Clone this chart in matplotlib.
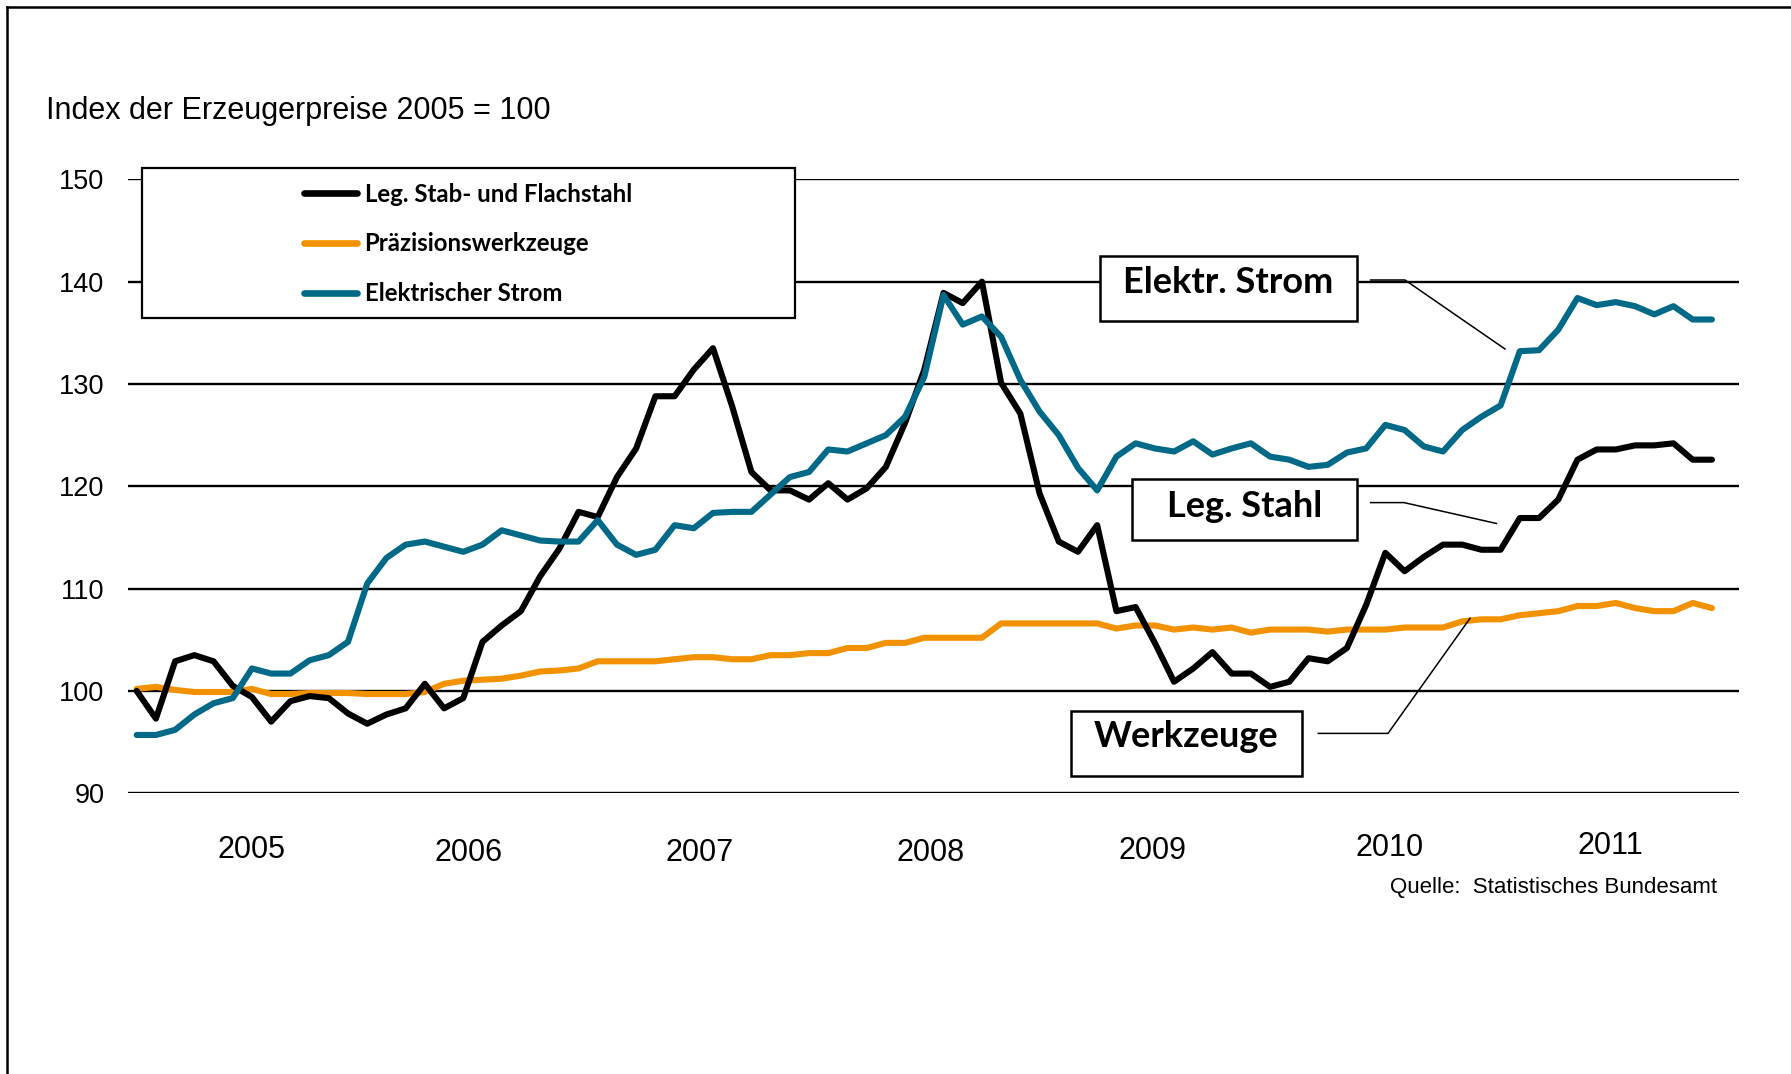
import numpy as np
import matplotlib
matplotlib.use("Agg")
import matplotlib.pyplot as plt
from matplotlib import font_manager as fm
from matplotlib.patches import Rectangle
from matplotlib.lines import Line2D

# monthly index values, Jan 2005 .. Nov 2011 (2005 = 100)
stahl = [100.0, 97.3, 102.9, 103.5, 102.9, 100.5, 99.4, 97.0, 99.0, 99.5, 99.3, 97.8,
         96.8, 97.7, 98.3, 100.7, 98.3, 99.3, 104.8, 106.4, 107.8, 111.2, 113.9, 117.5,
         117.0, 120.9, 123.7, 128.8, 128.8, 131.4, 133.5, 127.8, 121.4, 119.6, 119.6, 118.7,
         120.3, 118.7, 119.8, 121.9, 126.2, 131.4, 138.9, 137.9, 140.0, 130.1, 127.1, 119.3,
         114.6, 113.6, 116.2, 107.8, 108.2, 104.7, 100.9, 102.2, 103.8, 101.7, 101.7, 100.4,
         100.9, 103.2, 102.9, 104.2, 108.4, 113.5, 111.7, 113.1, 114.3, 114.3, 113.8, 113.8,
         116.9, 116.9, 118.7, 122.6, 123.6, 123.6, 124.0, 124.0, 124.2, 122.6, 122.6]
werkzeuge = [100.2, 100.4, 100.1, 99.9, 99.9, 99.9, 100.2, 99.7, 99.7, 99.8, 99.8, 99.8,
             99.7, 99.7, 99.7, 99.9, 100.7, 101.0, 101.1, 101.2, 101.5, 101.9, 102.0, 102.2,
             102.9, 102.9, 102.9, 102.9, 103.1, 103.3, 103.3, 103.1, 103.1, 103.5, 103.5, 103.7,
             103.7, 104.2, 104.2, 104.7, 104.7, 105.2, 105.2, 105.2, 105.2, 106.6, 106.6, 106.6,
             106.6, 106.6, 106.6, 106.1, 106.4, 106.4, 106.0, 106.2, 106.0, 106.2, 105.7, 106.0,
             106.0, 106.0, 105.8, 106.0, 106.0, 106.0, 106.2, 106.2, 106.2, 106.8, 107.0, 107.0,
             107.4, 107.6, 107.8, 108.3, 108.3, 108.6, 108.1, 107.8, 107.8, 108.6, 108.1]
strom = [95.7, 95.7, 96.2, 97.7, 98.8, 99.3, 102.2, 101.7, 101.7, 103.0, 103.5, 104.8,
         110.5, 113.0, 114.3, 114.6, 114.1, 113.6, 114.3, 115.7, 115.2, 114.7, 114.6, 114.6,
         116.7, 114.3, 113.3, 113.8, 116.2, 115.9, 117.4, 117.5, 117.5, 119.2, 120.9, 121.4,
         123.6, 123.4, 124.2, 125.0, 126.8, 130.7, 138.7, 135.8, 136.6, 134.6, 130.4, 127.3,
         125.0, 121.8, 119.6, 122.9, 124.2, 123.7, 123.4, 124.4, 123.1, 123.7, 124.2, 122.9,
         122.6, 121.9, 122.1, 123.3, 123.7, 126.0, 125.5, 123.9, 123.4, 125.5, 126.8, 127.9,
         133.2, 133.3, 135.3, 138.4, 137.7, 138.0, 137.6, 136.8, 137.6, 136.3, 136.3]

legend_labels = ["Leg. Stab- und Flachstahl", "Präzisionswerkzeuge", "Elektrischer Strom"]
year_labels = ["2005", "2006", "2007", "2008", "2009", "2010", "2011"]
year_pos = [6.0, 17.25, 29.3, 41.35, 52.9, 65.2, 76.7]
yticks = [90, 100, 110, 120, 130, 140, 150]
callouts = ["Elektr. Strom", "Leg. Stahl", "Werkzeuge"]

BLACK = "#000000"
ORANGE = "#F39200"
TEAL = "#006987"
LW = 4.4

W, H = 1791, 1074


def fx(x):
    return x / W


def fy(y):
    return 1 - y / H


def font_ok(name):
    try:
        fm.findfont(fm.FontProperties(family=name), fallback_to_default=False)
        return True
    except ValueError:
        return False


if font_ok("Liberation Sans Narrow"):
    narrow, title_size, tick_size = "Liberation Sans Narrow", 26, 21
else:
    narrow, title_size, tick_size = "Liberation Sans", 22, 19.5
plain = "Liberation Sans"
bold = "Lato"

fig = plt.figure(figsize=(W / 100, H / 100), dpi=100)
ax = fig.add_axes([fx(128), fy(793.3), fx(1739) - fx(128), fy(179.3) - fy(793.3)])

x = np.arange(len(stahl))
ax.plot(x, werkzeuge, color=ORANGE, lw=LW, solid_capstyle="round", solid_joinstyle="round", zorder=3)
ax.plot(x, stahl, color=BLACK, lw=LW, solid_capstyle="round", solid_joinstyle="round", zorder=4)
ax.plot(x, strom, color=TEAL, lw=LW, solid_capstyle="round", solid_joinstyle="round", zorder=5)

ax.set_xlim(-0.453, 83.41)
ax.set_ylim(90, 150)
ax.set_yticks(yticks)
ax.set_xticks([])
ax.grid(axis="y", color="black", lw=1.7)
ax.set_axisbelow(True)
for s in ax.spines.values():
    s.set_visible(False)
ax.tick_params(axis="y", length=0, pad=17)
for lab in ax.get_yticklabels():
    lab.set_fontfamily(narrow)
    lab.set_fontsize(tick_size)

# year labels under the plot
year_y = [850, 853, 853, 853, 851, 848, 846]
for lab, xp, yp in zip(year_labels, year_pos, year_y):
    ax.text(xp, (793.3 - yp) / 614.0, lab, transform=ax.get_xaxis_transform(),
            ha="center", va="center", fontsize=22, family=plain)

fig.text(fx(46), fy(110.8), "Index der Erzeugerpreise 2005 = 100", ha="left", va="center",
         fontsize=title_size, family=narrow)
fig.text(fx(1390), fy(888), "Quelle:  Statistisches Bundesamt", ha="left", va="center",
         fontsize=16, family=plain)

# legend: frame drawn as a separate box
ax.add_patch(Rectangle((fx(141.6), fy(317.7)), fx(795) - fx(141.6), fy(168.3) - fy(317.7),
                       transform=fig.transFigure, facecolor="white", edgecolor="black",
                       lw=1.6, zorder=6, clip_on=False))
handles = [Line2D([], [], color=c, lw=LW + 0.4, solid_capstyle="round") for c in (BLACK, ORANGE, TEAL)]
leg = ax.legend(handles, legend_labels, loc="upper left", bbox_to_anchor=(fx(304), fy(182.5)),
                bbox_transform=fig.transFigure, frameon=False, borderpad=0, borderaxespad=0,
                handlelength=2.2, handletextpad=0.32, labelspacing=1.12,
                prop=fm.FontProperties(family=bold, weight="bold", size=17.3))
leg.set_zorder(7)

# callout boxes with leader lines
boxes = [(1100, 255.7, 1357, 320.7, 293.3), (1131.7, 479.3, 1357, 540, 516.7),
         (1070.7, 710.7, 1301.7, 776, 746.7)]
for lab, (x0, y0, x1, y1, base) in zip(callouts, boxes):
    ax.add_patch(Rectangle((fx(x0), fy(y1)), fx(x1) - fx(x0), fy(y0) - fy(y1),
                           transform=fig.transFigure, facecolor="white", edgecolor="black",
                           lw=1.8, zorder=6, clip_on=False))
    fig.text(fx((x0 + x1) / 2), fy(base), lab, ha="center", va="baseline",
             fontsize=26, family=bold, weight="bold", zorder=7)

leaders = [([1370.6, 1405, 1505], [280, 280, 349]),
           ([1370.6, 1404, 1496.5], [502.6, 502.6, 523.5]),
           ([1318.3, 1388, 1470], [733.4, 733.4, 618.3])]
for xs, ys in leaders:
    fig.add_artist(Line2D([fx(v) for v in xs], [fy(v) for v in ys], color="black", lw=1.1))

# outer frame (open to the right and bottom)
fig.add_artist(Line2D([fx(7.3), fx(7.3)], [fy(7), 0], color="black", lw=1.8))
fig.add_artist(Line2D([fx(7.3), 1], [fy(7), fy(7)], color="black", lw=1.8))

fig.savefig("out.png", dpi=100, facecolor="white")
